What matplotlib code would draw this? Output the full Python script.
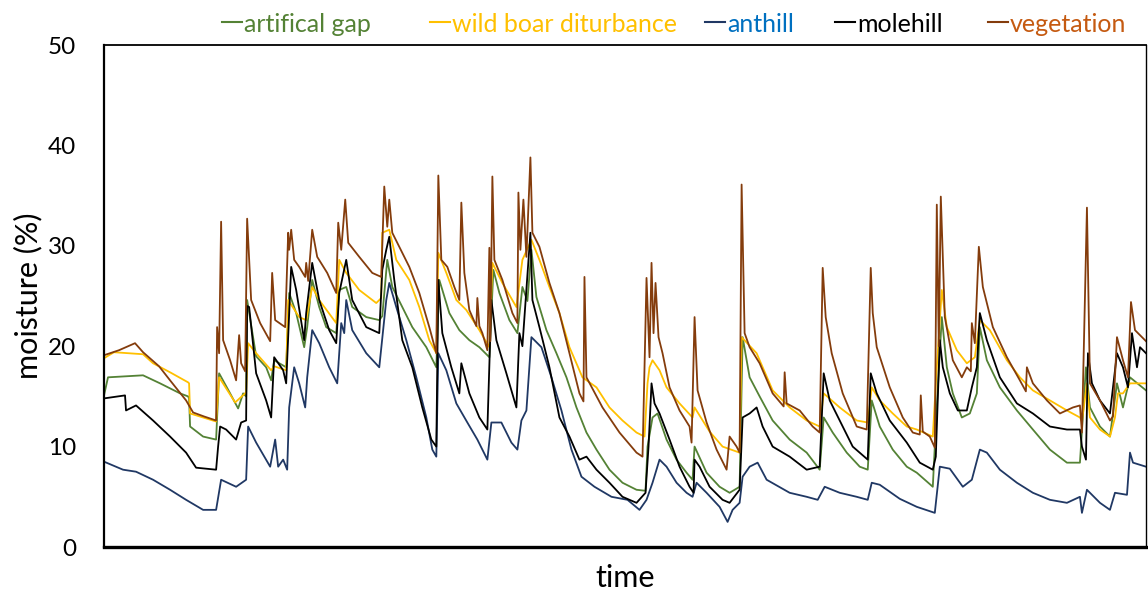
import matplotlib
matplotlib.use("Agg")
import matplotlib.pyplot as plt
from matplotlib.lines import Line2D

plt.rcParams['font.family'] = ['Lato', 'DejaVu Sans']

# time step index (one step ~ 3 h), moisture in %
t_veg = [0, 15, 31, 39, 55, 66, 82, 89, 100, 112, 113, 115, 117, 119, 126, 132, 135, 137, 141, 143,
         147, 156, 166, 168, 171, 181, 184, 185, 187, 190, 195, 201, 202, 204, 208, 213, 223, 232, 234, 237,
         241, 244, 255, 268, 277, 280, 283, 285, 288, 295, 305, 315, 325, 332, 334, 337, 343, 350, 355, 357,
         360, 365, 372, 373, 375, 378, 383, 385, 386, 388, 390, 398, 408, 413, 414, 416, 419, 422, 426, 428,
         435, 445, 455, 465, 475, 479, 480, 482, 498, 515, 532, 538, 542, 545, 547, 549, 551, 554, 558, 565,
         575, 585, 587, 590, 593, 602, 612, 622, 625, 632, 635, 637, 640, 645, 655, 668, 679, 680, 682, 695,
         708, 715, 718, 721, 727, 738, 752, 762, 766, 768, 772, 785, 798, 808, 815, 816, 818, 825, 830, 832,
         834, 836, 840, 848, 857, 862, 866, 867, 870, 874, 878, 888, 902, 915, 921, 922, 928, 942, 955, 968,
         975, 977, 982, 985, 995, 1005, 1008, 1012, 1018, 1023, 1026, 1030, 1041]
vegetation = [19.1, 19.6, 20.3, 19.4, 18.0, 16.6, 14.6, 13.4, 13.0, 12.6, 21.9, 19.3, 32.4, 20.6, 18.6, 16.6, 21.1, 18.3, 17.5, 32.7,
              24.6, 22.3, 20.5, 27.3, 22.6, 21.9, 31.3, 29.6, 31.6, 28.6, 27.9, 26.9, 28.3, 26.5, 31.6, 28.9, 27.3, 25.3, 32.3, 29.6,
              34.6, 30.3, 28.9, 27.3, 26.9, 35.9, 31.9, 34.6, 31.3, 29.9, 27.9, 25.3, 21.9, 19.3, 37.0, 28.6, 27.9, 25.9, 24.6, 34.3,
              27.3, 23.6, 22.0, 24.8, 22.0, 21.3, 19.6, 29.8, 20.5, 36.9, 28.6, 26.6, 23.3, 22.3, 35.3, 29.6, 34.6, 28.9, 38.8, 31.3,
              29.9, 26.3, 23.3, 19.3, 15.3, 14.5, 26.9, 16.9, 13.9, 11.4, 9.4, 9.0, 26.8, 18.9, 28.3, 21.3, 26.3, 20.9, 19.3, 15.9,
              13.6, 12.0, 10.4, 22.9, 15.6, 12.4, 9.7, 7.7, 11.0, 10.0, 9.4, 36.1, 21.3, 19.9, 18.3, 15.3, 14.0, 17.4, 14.3, 13.6,
              12.0, 11.4, 27.8, 22.9, 19.3, 15.3, 12.0, 11.7, 27.8, 23.3, 19.9, 15.9, 12.9, 11.4, 11.2, 15.1, 11.5, 11.0, 9.9, 34.1,
              20.0, 34.9, 22.9, 18.6, 16.9, 17.9, 17.5, 22.3, 20.3, 29.9, 25.9, 21.9, 18.9, 16.6, 15.5, 17.9, 16.3, 14.6, 13.3, 13.9,
              14.1, 11.4, 33.8, 16.3, 14.6, 12.6, 13.0, 20.9, 18.6, 16.9, 24.4, 21.6, 20.5]

t_boar = [0, 10, 39, 49, 66, 84, 85, 86, 99, 112, 115, 131, 141, 142, 144, 152, 167, 170, 182, 184,
          195, 202, 208, 215, 232, 235, 242, 255, 272, 277, 278, 285, 292, 305, 315, 325, 332, 334, 342, 352,
          362, 375, 385, 388, 398, 412, 418, 427, 435, 445, 455, 465, 478, 492, 505, 518, 532, 540, 543, 545,
          548, 555, 562, 575, 588, 590, 605, 618, 635, 637, 652, 668, 685, 702, 715, 719, 735, 752, 763, 767,
          775, 788, 802, 812, 828, 832, 837, 842, 852, 862, 870, 875, 885, 902, 915, 928, 945, 962, 975, 977,
          982, 985, 995, 1005, 1010, 1013, 1018, 1025, 1041]
wild_boar = [18.8, 19.4, 19.2, 18.3, 17.4, 16.4, 16.3, 13.3, 12.9, 12.5, 16.9, 14.4, 15.3, 15.5, 20.3, 19.3, 17.6, 18.0, 17.6, 24.6,
             22.9, 22.6, 25.9, 24.6, 22.3, 28.6, 27.3, 25.6, 24.3, 24.8, 31.3, 31.6, 28.6, 26.6, 23.9, 20.6, 19.3, 29.3, 27.3, 24.6,
             23.6, 21.6, 19.9, 28.3, 26.3, 23.9, 28.6, 30.6, 28.6, 25.9, 23.3, 19.9, 16.9, 15.9, 13.9, 12.6, 11.4, 11.0, 16.3, 17.9,
             18.6, 17.6, 15.9, 14.3, 12.9, 13.9, 11.5, 10.0, 9.4, 20.9, 19.3, 15.6, 13.9, 12.6, 12.0, 15.3, 13.9, 12.6, 12.4, 15.9,
             14.6, 13.3, 12.0, 11.7, 11.0, 17.9, 25.6, 21.9, 19.6, 18.3, 18.9, 22.6, 21.6, 18.6, 16.9, 15.6, 14.6, 13.6, 12.9, 12.5,
             16.3, 12.9, 11.7, 11.0, 12.9, 15.3, 15.3, 16.3, 16.3]

t_gap = [0, 4, 39, 56, 76, 84, 85, 86, 99, 112, 115, 126, 134, 139, 142, 143, 152, 162, 167, 170,
         182, 185, 192, 200, 203, 208, 215, 222, 232, 235, 242, 248, 262, 275, 278, 283, 288, 298, 308, 322,
         332, 335, 345, 355, 365, 375, 385, 389, 395, 405, 413, 418, 423, 427, 432, 442, 452, 462, 472, 482,
         492, 505, 518, 532, 541, 543, 548, 553, 562, 572, 582, 588, 590, 602, 615, 625, 635, 638, 645, 655,
         668, 685, 702, 715, 719, 728, 742, 755, 763, 767, 775, 788, 802, 812, 828, 832, 837, 842, 848, 857,
         865, 872, 875, 882, 895, 912, 928, 945, 962, 975, 981, 985, 995, 1005, 1012, 1018, 1025, 1041]
artifical_gap = [15.1, 16.9, 17.1, 16.3, 15.3, 15.0, 14.8, 12.0, 11.0, 10.7, 17.3, 15.3, 13.8, 15.3, 15.0, 24.6, 19.0, 17.9, 16.6, 18.6,
                 17.9, 25.3, 23.3, 19.9, 21.9, 26.6, 23.9, 21.9, 21.3, 25.6, 25.9, 23.9, 22.9, 22.6, 23.0, 28.6, 25.9, 23.9, 21.9, 19.9,
                 17.9, 26.6, 23.3, 21.6, 20.6, 19.9, 18.9, 27.6, 25.3, 22.6, 21.3, 25.9, 24.5, 29.6, 24.9, 21.6, 19.3, 16.9, 13.9, 11.4,
                 9.7, 7.7, 6.4, 5.7, 5.6, 10.0, 12.9, 13.3, 10.7, 8.7, 7.4, 6.7, 10.0, 7.4, 6.0, 5.4, 6.0, 20.9, 16.9, 15.0,
                 12.6, 10.7, 9.4, 7.7, 12.9, 11.4, 9.4, 8.0, 7.7, 14.6, 12.0, 9.7, 8.0, 7.4, 6.0, 14.0, 22.9, 17.9, 15.3, 12.9,
                 13.3, 15.3, 21.9, 18.6, 15.9, 13.6, 11.7, 9.7, 8.4, 8.4, 17.9, 13.9, 12.0, 11.0, 16.3, 13.9, 16.9, 15.6]

t_mole = [0, 21, 22, 32, 49, 66, 82, 92, 112, 114, 116, 122, 132, 137, 142, 143, 145, 152, 162, 167,
          170, 179, 182, 187, 192, 200, 202, 208, 215, 225, 232, 235, 242, 248, 262, 275, 278, 282, 285, 290,
          298, 308, 318, 327, 332, 334, 338, 347, 355, 357, 365, 375, 383, 387, 392, 402, 412, 415, 418, 426,
          428, 435, 445, 455, 465, 475, 482, 492, 505, 518, 532, 541, 544, 547, 550, 555, 565, 575, 585, 589,
          590, 595, 605, 618, 625, 635, 638, 645, 652, 658, 668, 685, 702, 715, 719, 725, 735, 748, 763, 766,
          772, 785, 802, 815, 828, 831, 835, 838, 845, 853, 862, 867, 872, 875, 882, 895, 912, 928, 945, 962,
          975, 977, 981, 983, 987, 995, 1005, 1012, 1018, 1023, 1027, 1032, 1035, 1041]
molehill = [14.8, 15.1, 13.6, 14.1, 12.6, 11.0, 9.4, 7.9, 7.7, 10.0, 12.0, 11.7, 10.7, 12.4, 12.6, 24.0, 23.9, 17.3, 14.6, 12.9,
            18.9, 17.6, 16.3, 27.9, 25.6, 20.6, 23.3, 28.3, 24.6, 21.6, 20.3, 25.3, 28.6, 24.6, 21.9, 21.3, 27.6, 29.6, 30.9, 26.6,
            20.6, 17.9, 13.9, 10.7, 10.0, 26.6, 21.3, 17.9, 15.3, 18.3, 15.3, 12.9, 11.7, 24.6, 20.6, 17.3, 13.9, 21.3, 20.0, 31.3,
            24.6, 21.9, 17.9, 12.9, 11.0, 8.7, 9.0, 7.7, 6.4, 5.0, 4.4, 5.4, 10.0, 16.3, 14.3, 13.3, 10.7, 8.0, 6.0, 5.4,
            8.7, 8.0, 6.0, 4.7, 4.4, 5.7, 12.9, 13.3, 13.9, 12.0, 10.0, 9.0, 7.7, 8.0, 17.3, 14.6, 12.6, 10.0, 8.7, 17.3,
            15.3, 12.6, 10.4, 8.4, 7.7, 9.0, 20.6, 17.9, 15.3, 13.6, 13.6, 15.9, 17.9, 23.3, 20.6, 16.9, 14.3, 13.3, 12.0, 11.7,
            11.7, 10.0, 8.7, 19.3, 16.3, 14.6, 13.3, 19.3, 17.9, 15.9, 21.3, 17.9, 19.9, 19.3]

t_ant = [0, 19, 32, 49, 66, 82, 99, 112, 117, 132, 142, 144, 152, 166, 171, 174, 179, 183, 185, 190,
         195, 201, 203, 208, 215, 225, 233, 237, 240, 242, 248, 262, 275, 282, 285, 292, 302, 312, 322, 328,
         332, 334, 342, 352, 363, 373, 383, 387, 397, 407, 413, 417, 422, 427, 437, 447, 457, 467, 477, 490,
         507, 523, 535, 542, 548, 555, 562, 572, 582, 588, 592, 602, 615, 623, 628, 635, 638, 645, 653, 662,
         685, 702, 713, 720, 735, 752, 763, 767, 775, 795, 812, 830, 835, 845, 858, 867, 875, 882, 895, 912,
         928, 945, 962, 975, 977, 982, 995, 1005, 1010, 1022, 1025, 1028, 1041]
anthill = [8.5, 7.7, 7.5, 6.7, 5.7, 4.7, 3.7, 3.7, 6.7, 6.0, 6.7, 12.0, 10.4, 8.0, 10.7, 8.0, 8.7, 7.7, 13.9, 17.9,
           16.3, 13.9, 16.9, 21.6, 20.3, 17.9, 16.3, 22.3, 21.3, 24.6, 21.6, 19.3, 17.9, 24.6, 26.3, 23.9, 20.6, 16.9, 12.9, 9.7,
           9.0, 19.3, 17.6, 14.3, 12.4, 10.7, 8.7, 12.4, 12.4, 10.4, 9.7, 12.6, 13.6, 20.9, 19.9, 16.9, 13.6, 9.7, 7.0, 6.0,
           5.0, 4.7, 3.7, 4.7, 6.4, 8.7, 8.0, 6.4, 5.4, 5.0, 6.4, 5.4, 4.0, 2.5, 3.7, 4.4, 7.0, 8.0, 8.4, 6.7,
           5.4, 5.0, 4.7, 6.0, 5.4, 5.0, 4.7, 6.4, 6.2, 4.8, 4.0, 3.4, 8.0, 7.8, 6.0, 6.7, 9.7, 9.4, 7.7, 6.4,
           5.4, 4.7, 4.4, 5.0, 3.4, 5.7, 4.4, 3.7, 5.4, 5.2, 9.4, 8.4, 8.0]

series = [
    (t_gap, artifical_gap, 'artifical gap', '#548235', '#548235'),
    (t_boar, wild_boar, 'wild boar diturbance', '#FFC000', '#FFC000'),
    (t_ant, anthill, 'anthill', '#203864', '#0070C0'),
    (t_mole, molehill, 'molehill', '#000000', '#000000'),
    (t_veg, vegetation, 'vegetation', '#843C0C', '#C55A11'),
]
# legend entry start, in figure pixels
legend_x = [222, 430, 705, 835, 988]

W, H = 1148, 597
fig = plt.figure(figsize=(W / 100, H / 100), dpi=100)
ax = fig.add_axes([104 / W, 1 - 547 / H, 1042 / W, 502 / H])

for t, v, name, c, tc in series:
    ax.plot(t, v, color=c, linewidth=1.3, label=name)

ax.set_xlim(0, 1041)
ax.set_ylim(0, 50)
ax.set_yticks([0, 10, 20, 30, 40, 50])
ax.set_xticks([])
ax.tick_params(axis='y', length=0, pad=20, labelsize=17.5)

ax.spines['left'].set_linewidth(1.6)
ax.spines['top'].set_linewidth(1.3)
ax.spines['right'].set_linewidth(1.0)
ax.spines['bottom'].set_linewidth(2.4)

ax.set_xlabel('time', fontsize=22, labelpad=12)
ax.set_ylabel('moisture (%)', fontsize=22, labelpad=4)

# legend drawn by hand: short line + coloured label
ly = 1 - 22 / H
for (t, v, name, c, tc), x0 in zip(series, legend_x):
    fig.add_artist(Line2D([x0 / W, (x0 + 20) / W], [ly, ly], color=c, linewidth=1.5))
    fig.text((x0 + 22) / W, ly, name, color=tc, fontsize=18, ha='left', va='center_baseline')

fig.savefig('out.png', dpi=100)
